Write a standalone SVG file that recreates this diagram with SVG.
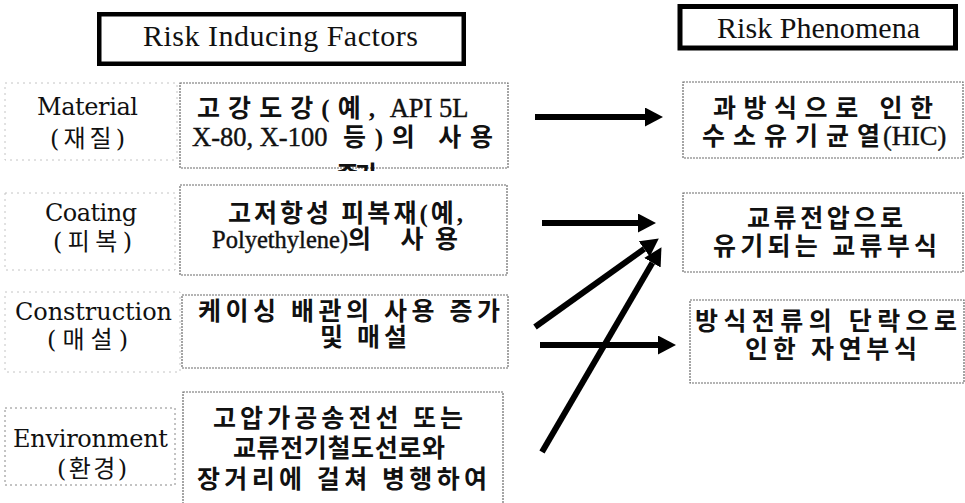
<svg xmlns="http://www.w3.org/2000/svg" width="965" height="503" viewBox="0 0 965 503">
<style>
.hdr{fill:#fff;stroke:#000;stroke-width:4.5}
.ht{font-family:'Liberation Serif',serif;font-size:30px;fill:#111}
.box{fill:none;stroke:#6a6a6a;stroke-width:1.2;stroke-dasharray:2 1}
.lbl{fill:none;stroke:#c4c4c4;stroke-width:1;stroke-dasharray:2 4}
.lbl2{fill:none;stroke:#888;stroke-width:1;stroke-dasharray:2 3}
.t{font-family:'Liberation Serif','Noto Sans CJK KR',serif;font-size:25px;font-weight:700;fill:#111}
.lat{font-weight:400;font-size:26.5px;stroke:#111;stroke-width:0.4}
.lat2{font-weight:400;font-size:24.5px;stroke:#111;stroke-width:0.4}
.lt{font-family:'DejaVu Serif','Noto Sans CJK KR',serif;font-size:24px;fill:#111}
.cn{stroke:#000;stroke-width:6;fill:none;marker-end:url(#ah)}
</style>
<defs>
<marker id="ah" markerUnits="userSpaceOnUse" markerWidth="18" markerHeight="19" refX="0" refY="9.5" orient="auto" viewBox="0 0 18 19"><path d="M0,0 L18,9.5 L0,19 z" fill="#000"/></marker>
<clipPath id="clip1"><rect x="180" y="150" width="330" height="21"/></clipPath>
</defs>
<rect width="965" height="503" fill="#fff"/>

<g id="header-factors">
<rect class="hdr" x="99.25" y="14.25" width="364.5" height="49.5"/>
<text class="ht" x="143" y="46" textLength="275" lengthAdjust="spacing">Risk Inducing Factors</text>
</g>
<g id="header-phenomena">
<rect class="hdr" x="680" y="6.5" width="275.5" height="41.5" style="stroke-width:5"/>
<text class="ht" x="717" y="38" textLength="203" lengthAdjust="spacing">Risk Phenomena</text>
</g>

<g id="label-material">
<rect class="lbl" x="5" y="83" width="172" height="77"/>
<text class="lt" x="37" y="115" textLength="101" lengthAdjust="spacing">Material</text>
<text class="lt" x="50" y="147" textLength="75" lengthAdjust="spacing">(재질)</text>
</g>
<g id="label-coating">
<rect class="lbl" x="5" y="193" width="170" height="77"/>
<text class="lt" x="45" y="221" textLength="92" lengthAdjust="spacing">Coating</text>
<text class="lt" x="53" y="250" textLength="79" lengthAdjust="spacing">(피복)</text>
</g>
<g id="label-construction">
<rect class="lbl" x="5" y="292" width="175" height="80"/>
<text class="lt" x="15" y="320" textLength="157" lengthAdjust="spacing">Construction</text>
<text class="lt" x="47" y="348" textLength="81" lengthAdjust="spacing">(매설)</text>
</g>
<g id="label-environment">
<rect class="lbl2" x="5" y="408" width="170" height="77"/>
<text class="lt" x="13" y="447" textLength="155" lengthAdjust="spacing">Environment</text>
<text class="lt" x="57" y="477" textLength="70" lengthAdjust="spacing">(환경)</text>
</g>

<g id="factor-material">
<rect class="box" x="180" y="83" width="328" height="85"/>
<text class="t" x="197" y="117"><tspan x="197" textLength="178" lengthAdjust="spacing">고강도강(예,</tspan><tspan class="lat"> API 5L</tspan></text>
<text class="t" x="192" y="146"><tspan class="lat" x="192">X-80, X-100 </tspan><tspan x="343" textLength="150" lengthAdjust="spacing">등)의 사용</tspan></text>
<text class="t" x="336" y="184" textLength="42" lengthAdjust="spacing" clip-path="url(#clip1)">증가</text>
</g>
<g id="factor-coating">
<rect class="box" x="180" y="185" width="327" height="90"/>
<text class="t" x="228" y="222" textLength="235" lengthAdjust="spacing">고저항성 피복재(예,</text>
<text class="t" x="212" y="248"><tspan class="lat2" x="212">Polyethylene)</tspan><tspan x="348" textLength="110" lengthAdjust="spacing">의 사용</tspan></text>
</g>
<g id="factor-construction">
<rect class="box" x="182" y="295" width="326" height="73"/>
<text class="t" x="198" y="320" textLength="302" lengthAdjust="spacing">케이싱 배관의 사용 증가</text>
<text class="t" x="320" y="346" textLength="87" lengthAdjust="spacing">및 매설</text>
</g>
<g id="factor-environment">
<rect class="box" x="183" y="392" width="320" height="120"/>
<text class="t" x="213" y="427" textLength="250" lengthAdjust="spacing">고압가공송전선 또는</text>
<text class="t" x="233" y="457" textLength="212" lengthAdjust="spacing">교류전기철도선로와</text>
<text class="t" x="197" y="488" textLength="290" lengthAdjust="spacing">장거리에 걸쳐 병행하여</text>
</g>

<g id="phenomenon-hic">
<rect class="box" x="683" y="82" width="280" height="76"/>
<text class="t" x="713" y="117" textLength="220" lengthAdjust="spacing">과방식으로 인한</text>
<text class="t" x="702" y="145"><tspan x="702" textLength="178" lengthAdjust="spacing">수소유기균열</tspan><tspan class="lat" x="883">(HIC)</tspan></text>
</g>
<g id="phenomenon-ac">
<rect class="box" x="683" y="193" width="280" height="79"/>
<text class="t" x="747" y="227" textLength="156" lengthAdjust="spacing">교류전압으로</text>
<text class="t" x="713" y="255" textLength="224" lengthAdjust="spacing">유기되는 교류부식</text>
</g>
<g id="phenomenon-natural">
<rect class="box" x="690" y="300" width="274" height="83"/>
<text class="t" x="695" y="330" textLength="262" lengthAdjust="spacing">방식전류의 단락으로</text>
<text class="t" x="745" y="358" textLength="172" lengthAdjust="spacing">인한 자연부식</text>
</g>

<g id="connectors">
<line class="cn" x1="535" y1="117" x2="645" y2="117"/>
<line class="cn" x1="542" y1="223" x2="638" y2="223"/>
<line class="cn" x1="540" y1="345" x2="658" y2="345"/>
<line class="cn" x1="535" y1="327" x2="644.2" y2="248.9"/>
<line class="cn" x1="542" y1="452" x2="652.4" y2="262.7"/>
</g>
</svg>
